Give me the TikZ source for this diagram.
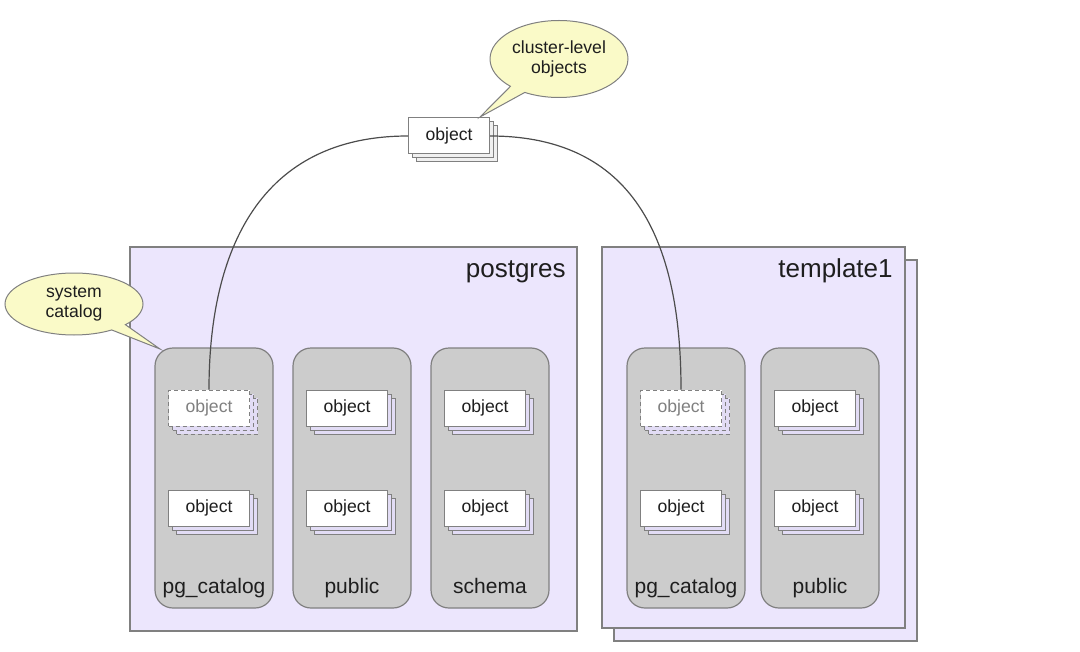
\documentclass[tikz,border=0pt]{standalone}
\usepackage{fontspec}
\setmainfont{Liberation Sans}
\usetikzlibrary{shadows,shapes.callouts}

\definecolor{dbfill}{RGB}{236,230,253}
\definecolor{schfill}{RGB}{204,204,204}
\definecolor{objback}{RGB}{226,220,245}
\definecolor{notefill}{RGB}{250,250,200}
\definecolor{edgegray}{RGB}{128,128,128}
\definecolor{inkgray}{RGB}{30,30,30}

\begin{document}
\begin{tikzpicture}[x=0.5pt, y=-0.5pt, text=inkgray,
    dbbox/.style={draw=edgegray, fill=dbfill, line width=0.6pt, inner sep=0pt},
    dbtitle/.style={font=\fontsize{13}{15}\selectfont, inner sep=0pt},
    schbox/.style={draw=edgegray, fill=schfill, rounded corners=9pt, line width=0.6pt,
        minimum width=59pt, minimum height=130pt, inner sep=0pt},
    schlabel/.style={font=\fontsize{10.5}{12}\selectfont, inner sep=0pt},
    objbase/.style={draw=edgegray, fill=white, line width=0.5pt, inner sep=0pt,
        minimum width=40.5pt, minimum height=18pt, font=\fontsize{8.8}{10}\selectfont},
    obj/.style={objbase,
        double copy shadow={shadow xshift=2pt, shadow yshift=-2pt, fill=objback, draw=edgegray}},
    ghostobj/.style={objbase, dash pattern=on 2pt off 1.5pt, text=gray,
        double copy shadow={shadow xshift=2pt, shadow yshift=-2pt, fill=objback, draw=edgegray,
            dash pattern=on 2pt off 1.5pt}},
    topobj/.style={objbase,
        double copy shadow={shadow xshift=2pt, shadow yshift=-2pt, fill=gray!12, draw=edgegray}},
    note/.style={ellipse callout, draw=edgegray, fill=notefill, line width=0.5pt, inner sep=0pt,
        align=center, font=\fontsize{8.8}{10}\selectfont, minimum width=69pt},
    conn/.style={draw=black!70, line width=0.6pt}
  ]
  \useasboundingbox (0,0) rectangle (1080,652);

  % databases
  \node[dbbox, minimum width=223.5pt, minimum height=192pt] (pgdb) at (353.5,439) {};
  \node[dbbox, minimum width=151.5pt, minimum height=190.5pt,
        copy shadow={shadow xshift=6pt, shadow yshift=-6.5pt, fill=dbfill, draw=edgegray}]
        (tpldb) at (753.5,437.5) {};
  \node[dbtitle, anchor=base east] (pgname) at (566,278) {postgres};
  \node[dbtitle, anchor=base east] (tplname) at (893,278) {template1};

  % schemas
  \node[schbox] (pgcat) at (214,478) {};
  \node[schbox] (pgpub) at (352,478) {};
  \node[schbox] (pgsch) at (490,478) {};
  \node[schbox] (tplcat) at (686,478) {};
  \node[schbox] (tplpub) at (820,478) {};
  \node[schlabel, anchor=base] (pgcatl) at (214,593) {pg\_catalog};
  \node[schlabel, anchor=base] (pgpubl) at (352,593) {public};
  \node[schlabel, anchor=base] (pgschl) at (490,593) {schema};
  \node[schlabel, anchor=base] (tplcatl) at (686,593) {pg\_catalog};
  \node[schlabel, anchor=base] (tplpubl) at (820,593) {public};

  % cluster-level object
  \node[topobj] (clobj) at (449,136) {object};

  % objects in the schemas
  \node[ghostobj] (pgcat1) at (209,408) {object};
  \node[obj] (pgcat2) at (209,508) {object};
  \node[obj] (pgpub1) at (347,408) {object};
  \node[obj] (pgpub2) at (347,508) {object};
  \node[obj] (pgsch1) at (485,408) {object};
  \node[obj] (pgsch2) at (485,508) {object};
  \node[ghostobj] (tplcat1) at (681,408) {object};
  \node[obj] (tplcat2) at (681,508) {object};
  \node[obj] (tplpub1) at (815,408) {object};
  \node[obj] (tplpub2) at (815,508) {object};

  \draw[conn] (clobj.west) .. controls (260,136) and (209,250) .. (pgcat1.north);
  \draw[conn] (clobj.east) .. controls (640,136) and (681,250) .. (tplcat1.north);

  % callouts
  \coordinate (cltip) at (480,117);
  \coordinate (systip) at (160,349);
  \node[note, minimum height=38.5pt, callout absolute pointer={(cltip)}] (clnote) at (559,59)
        {cluster-level\\objects};
  \node[note, minimum height=31pt, callout absolute pointer={(systip)}] (sysnote) at (74,304)
        {system\\catalog};
\end{tikzpicture}
\end{document}
